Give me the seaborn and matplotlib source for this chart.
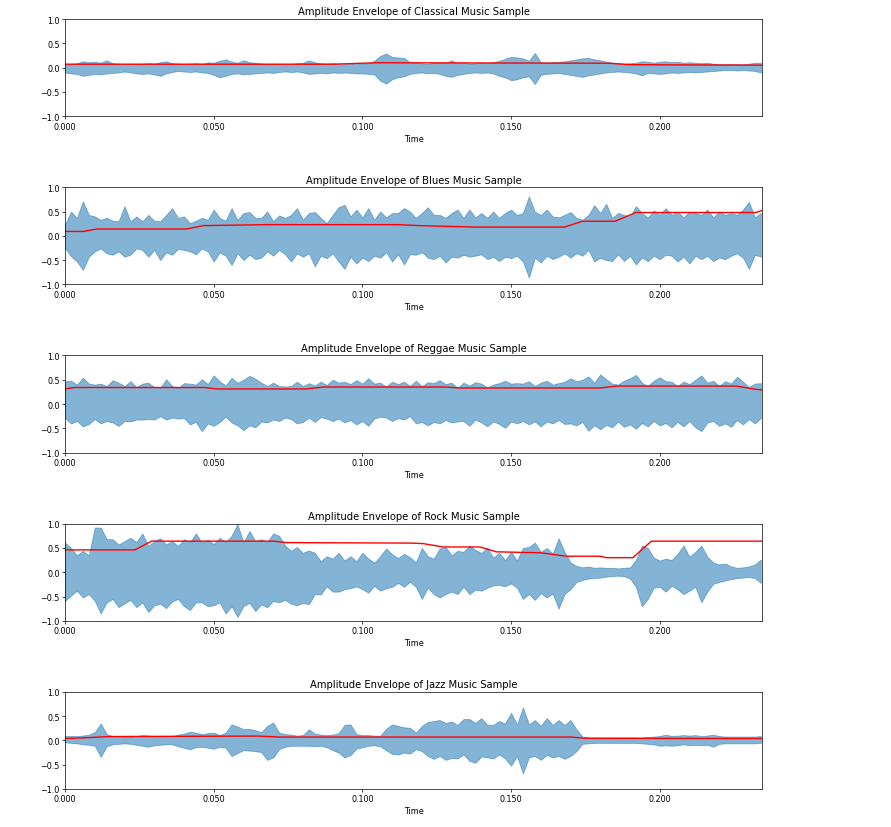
import matplotlib
matplotlib.use("Agg")
import matplotlib.pyplot as plt
import seaborn as sns
import numpy as np
import pandas as pd
from matplotlib.ticker import FormatStrFormatter, MultipleLocator

# ---------------- data ----------------
# sampling grid of the waveform envelope read-out, in milliseconds
time_ms = [0, 2, 4, 6, 8, 10, 12, 14, 16, 18, 20, 22, 24, 26, 28, 30, 32, 34, 36, 38,
           40, 42, 44, 46, 48, 50, 52, 54, 56, 58, 60, 62, 64, 66, 68, 70, 72, 74, 76, 78,
           80, 82, 84, 86, 88, 90, 92, 94, 96, 98, 100, 102, 104, 106, 108, 110, 112, 114, 116,
           118, 120, 122, 124, 126, 128, 130, 132, 134, 136, 138, 140, 142, 144, 146, 148, 150,
           152, 154, 156, 158, 160, 162, 164, 166, 168, 170, 172, 174, 176, 178, 180, 182, 184,
           186, 188, 190, 192, 194, 196, 198, 200, 202, 204, 206, 208, 210, 212, 214, 216, 218,
           220, 222, 224, 226, 228, 230, 232, 234]

genres = ["Classical", "Blues", "Reggae", "Rock", "Jazz"]

classical_upper = [0.07, 0.07, 0.09, 0.13, 0.11, 0.12, 0.10, 0.15, 0.09, 0.08,
                   0.07, 0.08, 0.07, 0.08, 0.09, 0.08, 0.11, 0.13, 0.09, 0.08,
                   0.07, 0.08, 0.09, 0.07, 0.11, 0.10, 0.14, 0.17, 0.12, 0.10,
                   0.15, 0.11, 0.10, 0.08, 0.07, 0.08, 0.07, 0.08, 0.07, 0.09,
                   0.10, 0.15, 0.11, 0.09, 0.08, 0.09, 0.07, 0.07, 0.08, 0.07,
                   0.08, 0.09, 0.14, 0.24, 0.29, 0.22, 0.21, 0.20, 0.11,
                   0.10, 0.09, 0.08, 0.10, 0.11, 0.10, 0.15, 0.09, 0.10, 0.08,
                   0.09, 0.10, 0.09, 0.11, 0.14, 0.18, 0.22, 0.21, 0.19, 0.14,
                   0.30, 0.11, 0.10, 0.11, 0.12, 0.13, 0.15, 0.17, 0.19, 0.20,
                   0.17, 0.15, 0.12, 0.10, 0.09, 0.08, 0.09, 0.10, 0.13, 0.12,
                   0.10, 0.12, 0.13, 0.11, 0.12, 0.10, 0.11, 0.10, 0.09, 0.10,
                   0.08, 0.07, 0.07, 0.07, 0.07, 0.07, 0.08, 0.10, 0.10]
classical_lower = [-0.10, -0.12, -0.13, -0.17, -0.15, -0.13, -0.14, -0.12, -0.11, -0.10,
                   -0.08, -0.10, -0.12, -0.13, -0.12, -0.14, -0.17, -0.12, -0.09, -0.07,
                   -0.08, -0.09, -0.08, -0.10, -0.11, -0.15, -0.20, -0.17, -0.13, -0.12,
                   -0.14, -0.13, -0.12, -0.11, -0.10, -0.11, -0.09, -0.08, -0.09, -0.08,
                   -0.10, -0.13, -0.12, -0.11, -0.12, -0.10, -0.11, -0.10, -0.11, -0.12,
                   -0.12, -0.13, -0.14, -0.27, -0.33, -0.24, -0.20, -0.18, -0.13,
                   -0.11, -0.10, -0.12, -0.11, -0.13, -0.17, -0.19, -0.15, -0.13, -0.11,
                   -0.10, -0.11, -0.10, -0.12, -0.17, -0.20, -0.26, -0.24, -0.20, -0.18,
                   -0.34, -0.15, -0.13, -0.12, -0.11, -0.13, -0.15, -0.17, -0.19, -0.16,
                   -0.14, -0.12, -0.10, -0.09, -0.08, -0.09, -0.10, -0.12, -0.16, -0.11,
                   -0.12, -0.13, -0.12, -0.10, -0.11, -0.10, -0.09, -0.10, -0.09, -0.08,
                   -0.07, -0.06, -0.05, -0.05, -0.06, -0.05, -0.06, -0.07, -0.10]

blues_upper = [0.23, 0.50, 0.37, 0.71, 0.43, 0.40, 0.33, 0.37, 0.31, 0.30,
               0.61, 0.30, 0.40, 0.30, 0.43, 0.31, 0.30, 0.43, 0.57, 0.37,
               0.40, 0.26, 0.31, 0.37, 0.33, 0.54, 0.37, 0.31, 0.57, 0.33,
               0.47, 0.49, 0.37, 0.37, 0.50, 0.30, 0.42, 0.37, 0.43, 0.57,
               0.33, 0.47, 0.49, 0.37, 0.26, 0.43, 0.59, 0.64, 0.40, 0.54,
               0.38, 0.57, 0.33, 0.50, 0.38, 0.47, 0.47, 0.57, 0.50,
               0.37, 0.47, 0.59, 0.43, 0.43, 0.37, 0.47, 0.54, 0.37, 0.54,
               0.38, 0.47, 0.37, 0.50, 0.37, 0.47, 0.54, 0.43, 0.47, 0.81,
               0.50, 0.43, 0.54, 0.40, 0.38, 0.43, 0.49, 0.37, 0.33, 0.43,
               0.63, 0.47, 0.66, 0.37, 0.47, 0.43, 0.40, 0.61, 0.47, 0.38,
               0.52, 0.43, 0.57, 0.43, 0.50, 0.38, 0.50, 0.47, 0.43, 0.54,
               0.38, 0.50, 0.43, 0.47, 0.43, 0.54, 0.70, 0.38, 0.47]
blues_lower = [-0.25, -0.42, -0.53, -0.70, -0.43, -0.32, -0.26, -0.36, -0.39, -0.32,
               -0.43, -0.39, -0.26, -0.29, -0.43, -0.29, -0.50, -0.34, -0.39, -0.27,
               -0.29, -0.32, -0.38, -0.26, -0.32, -0.53, -0.34, -0.41, -0.60, -0.36,
               -0.50, -0.39, -0.48, -0.45, -0.32, -0.41, -0.29, -0.38, -0.53, -0.36,
               -0.43, -0.36, -0.63, -0.41, -0.46, -0.36, -0.53, -0.68, -0.43, -0.57,
               -0.45, -0.52, -0.41, -0.45, -0.34, -0.53, -0.38, -0.59, -0.38,
               -0.39, -0.34, -0.45, -0.48, -0.41, -0.55, -0.43, -0.45, -0.39, -0.43,
               -0.41, -0.38, -0.48, -0.43, -0.52, -0.43, -0.46, -0.41, -0.53, -0.86,
               -0.45, -0.55, -0.41, -0.48, -0.43, -0.36, -0.45, -0.36, -0.41, -0.29,
               -0.53, -0.45, -0.50, -0.52, -0.38, -0.52, -0.41, -0.59, -0.45, -0.52,
               -0.41, -0.48, -0.39, -0.41, -0.53, -0.43, -0.57, -0.41, -0.48, -0.41,
               -0.52, -0.45, -0.48, -0.41, -0.36, -0.45, -0.68, -0.39, -0.43]

reggae_upper = [0.47, 0.48, 0.40, 0.54, 0.42, 0.40, 0.42, 0.37, 0.49, 0.44,
                0.37, 0.47, 0.35, 0.42, 0.44, 0.35, 0.33, 0.51, 0.37, 0.33,
                0.43, 0.42, 0.40, 0.51, 0.41, 0.59, 0.47, 0.38, 0.54, 0.44,
                0.50, 0.58, 0.52, 0.44, 0.37, 0.44, 0.37, 0.36, 0.37, 0.46,
                0.37, 0.43, 0.38, 0.46, 0.39, 0.50, 0.44, 0.46, 0.41, 0.49,
                0.42, 0.53, 0.42, 0.44, 0.36, 0.46, 0.41, 0.46, 0.37,
                0.48, 0.37, 0.45, 0.43, 0.49, 0.41, 0.44, 0.33, 0.44, 0.38,
                0.45, 0.42, 0.34, 0.40, 0.43, 0.48, 0.42, 0.43, 0.42, 0.47,
                0.37, 0.44, 0.48, 0.40, 0.43, 0.46, 0.53, 0.47, 0.50, 0.57,
                0.44, 0.61, 0.51, 0.42, 0.40, 0.48, 0.53, 0.60, 0.44, 0.37,
                0.48, 0.55, 0.47, 0.46, 0.37, 0.46, 0.41, 0.50, 0.59, 0.44,
                0.48, 0.37, 0.47, 0.42, 0.56, 0.46, 0.35, 0.42, 0.43]
reggae_lower = [-0.29, -0.40, -0.35, -0.46, -0.41, -0.31, -0.40, -0.35, -0.38, -0.45,
                -0.35, -0.36, -0.32, -0.32, -0.31, -0.32, -0.25, -0.32, -0.28, -0.30,
                -0.29, -0.42, -0.37, -0.56, -0.40, -0.45, -0.37, -0.26, -0.38, -0.44,
                -0.54, -0.44, -0.48, -0.36, -0.38, -0.32, -0.35, -0.28, -0.31, -0.40,
                -0.37, -0.28, -0.37, -0.27, -0.30, -0.35, -0.30, -0.38, -0.33, -0.42,
                -0.35, -0.45, -0.30, -0.26, -0.28, -0.35, -0.29, -0.32, -0.25,
                -0.40, -0.37, -0.44, -0.37, -0.40, -0.33, -0.38, -0.36, -0.35, -0.45,
                -0.32, -0.38, -0.46, -0.36, -0.41, -0.49, -0.36, -0.40, -0.35, -0.42,
                -0.36, -0.46, -0.36, -0.40, -0.33, -0.41, -0.40, -0.44, -0.37, -0.55,
                -0.44, -0.52, -0.43, -0.48, -0.36, -0.47, -0.42, -0.51, -0.39, -0.46,
                -0.35, -0.44, -0.39, -0.48, -0.37, -0.46, -0.35, -0.48, -0.56, -0.38,
                -0.35, -0.45, -0.40, -0.47, -0.33, -0.42, -0.31, -0.40, -0.29]

rock_upper = [0.61, 0.50, 0.35, 0.44, 0.35, 0.92, 0.92, 0.68, 0.68, 0.57,
              0.64, 0.71, 0.62, 0.80, 0.54, 0.64, 0.70, 0.57, 0.64, 0.54,
              0.68, 0.62, 0.80, 0.61, 0.67, 0.58, 0.71, 0.62, 0.75, 0.99,
              0.61, 0.85, 0.64, 0.68, 0.62, 0.80, 0.75, 0.55, 0.44, 0.52,
              0.40, 0.45, 0.40, 0.23, 0.33, 0.28, 0.40, 0.24, 0.33, 0.23,
              0.40, 0.28, 0.20, 0.33, 0.49, 0.37, 0.29, 0.38, 0.31,
              0.20, 0.50, 0.33, 0.28, 0.49, 0.52, 0.35, 0.44, 0.42, 0.55,
              0.46, 0.40, 0.50, 0.30, 0.40, 0.25, 0.42, 0.24, 0.50, 0.52,
              0.61, 0.42, 0.50, 0.38, 0.70, 0.42, 0.20, 0.13, 0.10, 0.12,
              0.09, 0.10, 0.09, 0.09, 0.08, 0.09, 0.10, 0.25, 0.55, 0.50,
              0.30, 0.24, 0.28, 0.25, 0.38, 0.55, 0.32, 0.42, 0.55, 0.32,
              0.20, 0.16, 0.18, 0.12, 0.09, 0.10, 0.12, 0.16, 0.26]
rock_lower = [-0.59, -0.48, -0.38, -0.52, -0.45, -0.59, -0.85, -0.62, -0.55, -0.72,
              -0.64, -0.57, -0.72, -0.62, -0.82, -0.68, -0.65, -0.74, -0.60, -0.55,
              -0.70, -0.78, -0.62, -0.62, -0.70, -0.68, -0.62, -0.85, -0.70, -0.92,
              -0.70, -0.63, -0.80, -0.66, -0.72, -0.59, -0.62, -0.57, -0.65, -0.68,
              -0.63, -0.66, -0.45, -0.46, -0.29, -0.40, -0.40, -0.35, -0.33, -0.29,
              -0.35, -0.42, -0.28, -0.38, -0.33, -0.30, -0.22, -0.30, -0.20,
              -0.30, -0.55, -0.32, -0.45, -0.52, -0.45, -0.40, -0.45, -0.30, -0.45,
              -0.36, -0.38, -0.32, -0.27, -0.26, -0.29, -0.23, -0.32, -0.55, -0.45,
              -0.57, -0.43, -0.52, -0.44, -0.75, -0.45, -0.35, -0.20, -0.16, -0.13,
              -0.12, -0.11, -0.09, -0.08, -0.07, -0.08, -0.13, -0.30, -0.70, -0.55,
              -0.32, -0.30, -0.40, -0.28, -0.35, -0.45, -0.38, -0.30, -0.62, -0.40,
              -0.24, -0.20, -0.17, -0.14, -0.12, -0.11, -0.10, -0.12, -0.22]

jazz_upper = [0.09, 0.09, 0.09, 0.10, 0.12, 0.17, 0.35, 0.13, 0.09, 0.09,
              0.08, 0.08, 0.09, 0.11, 0.10, 0.09, 0.09, 0.09, 0.09, 0.12,
              0.14, 0.18, 0.16, 0.13, 0.15, 0.16, 0.11, 0.16, 0.33, 0.29,
              0.23, 0.24, 0.21, 0.17, 0.30, 0.37, 0.16, 0.13, 0.12, 0.10,
              0.11, 0.23, 0.14, 0.12, 0.11, 0.12, 0.15, 0.32, 0.33, 0.13,
              0.11, 0.11, 0.10, 0.10, 0.24, 0.33, 0.30, 0.27, 0.26,
              0.16, 0.30, 0.38, 0.40, 0.42, 0.36, 0.39, 0.32, 0.44, 0.44,
              0.36, 0.46, 0.32, 0.32, 0.40, 0.35, 0.57, 0.33, 0.68, 0.33,
              0.42, 0.30, 0.46, 0.32, 0.42, 0.32, 0.42, 0.23, 0.08, 0.06,
              0.06, 0.06, 0.06, 0.06, 0.06, 0.06, 0.06, 0.06, 0.06, 0.07,
              0.08, 0.09, 0.12, 0.09, 0.10, 0.11, 0.10, 0.11, 0.09, 0.10,
              0.12, 0.09, 0.08, 0.08, 0.08, 0.08, 0.08, 0.08, 0.09]
jazz_lower = [-0.04, -0.05, -0.06, -0.08, -0.09, -0.11, -0.34, -0.12, -0.08, -0.07,
              -0.06, -0.07, -0.09, -0.11, -0.13, -0.10, -0.09, -0.08, -0.08, -0.12,
              -0.15, -0.18, -0.14, -0.13, -0.15, -0.17, -0.13, -0.15, -0.32, -0.26,
              -0.20, -0.21, -0.22, -0.24, -0.40, -0.35, -0.18, -0.13, -0.11, -0.11,
              -0.11, -0.11, -0.12, -0.11, -0.14, -0.20, -0.25, -0.35, -0.30, -0.17,
              -0.14, -0.11, -0.10, -0.12, -0.20, -0.28, -0.29, -0.25, -0.27,
              -0.18, -0.22, -0.32, -0.38, -0.32, -0.40, -0.36, -0.37, -0.29, -0.42,
              -0.46, -0.33, -0.35, -0.37, -0.29, -0.37, -0.52, -0.32, -0.68, -0.35,
              -0.32, -0.40, -0.30, -0.35, -0.32, -0.38, -0.32, -0.22, -0.07, -0.06,
              -0.05, -0.05, -0.05, -0.05, -0.05, -0.05, -0.05, -0.05, -0.06, -0.07,
              -0.08, -0.11, -0.10, -0.11, -0.10, -0.08, -0.10, -0.09, -0.10, -0.09,
              -0.13, -0.07, -0.06, -0.06, -0.06, -0.06, -0.06, -0.06, -0.05]

# amplitude envelope (red line): knot times (ms) and values
classical_env_t = [0, 90, 105, 183, 190, 234.4]
classical_env_v = [0.07, 0.07, 0.10, 0.09, 0.06, 0.05]
blues_env_t = [0, 6.2, 10.6, 40.9, 46.5, 67.8, 112, 119, 138, 168, 174, 185, 192, 232.5, 234.4]
blues_env_v = [0.09, 0.09, 0.14, 0.14, 0.21, 0.23, 0.23, 0.21, 0.18, 0.18, 0.30, 0.30, 0.48, 0.48, 0.52]
reggae_env_t = [0, 3, 47, 51, 81, 87, 128, 133, 180, 185.4, 225.8, 232.5, 234.4]
reggae_env_v = [0.31, 0.34, 0.34, 0.31, 0.31, 0.35, 0.35, 0.33, 0.33, 0.37, 0.37, 0.30, 0.29]
rock_env_t = [0, 23.5, 29.1, 70, 74.5, 116, 120.4, 127.2, 139.5, 145.1, 160, 168.6, 179.8, 182, 191, 197.2, 234.4]
rock_env_v = [0.46, 0.46, 0.64, 0.64, 0.61, 0.60, 0.59, 0.52, 0.52, 0.42, 0.40, 0.33, 0.33, 0.30, 0.30, 0.64, 0.64]
jazz_env_t = [0, 5, 15, 65, 72, 170, 175, 234.4]
jazz_env_v = [0.04, 0.05, 0.08, 0.09, 0.07, 0.07, 0.045, 0.04]

uppers = [classical_upper, blues_upper, reggae_upper, rock_upper, jazz_upper]
lowers = [classical_lower, blues_lower, reggae_lower, rock_lower, jazz_lower]
env_ts = [classical_env_t, blues_env_t, reggae_env_t, rock_env_t, jazz_env_t]
env_vs = [classical_env_v, blues_env_v, reggae_env_v, rock_env_v, jazz_env_v]

duration_s = 0.2344

# ---------------- drawing ----------------
fig, axes = plt.subplots(5, 1, figsize=(8.91, 8.28), dpi=100)
fig.subplots_adjust(left=0.073, right=0.8552, top=0.9758, bottom=0.0459, hspace=0.732)

t = np.array(time_ms) / 1000.0
for ax, g, up, lo, et, ev in zip(axes, genres, uppers, lowers, env_ts, env_vs):
    ax.fill_between(t, lo, up, color="#1f77b4", alpha=0.55, linewidth=0.6,
                    edgecolor="#1f77b4")
    df = pd.DataFrame({"Time": np.array(et) / 1000.0, "Amplitude": ev})
    sns.lineplot(data=df, x="Time", y="Amplitude", ax=ax, color="red",
                 linewidth=1.0, estimator=None, sort=False)
    ax.set_xlim(0, duration_s)
    ax.set_ylim(-1, 1)
    ax.set_ylabel("")
    ax.set_xlabel("Time", fontsize=5.8, labelpad=2.2)
    ax.set_title(f"Amplitude Envelope of {g} Music Sample", fontsize=7.2, pad=3.4)
    ax.xaxis.set_major_locator(MultipleLocator(0.05))
    ax.xaxis.set_major_formatter(FormatStrFormatter("%.3f"))
    ax.yaxis.set_major_locator(MultipleLocator(0.5))
    ax.tick_params(labelsize=5.8, length=2, width=0.5, pad=1.9)
    for s in ax.spines.values():
        s.set_linewidth(0.5)

fig.savefig("out.png", dpi=100)
